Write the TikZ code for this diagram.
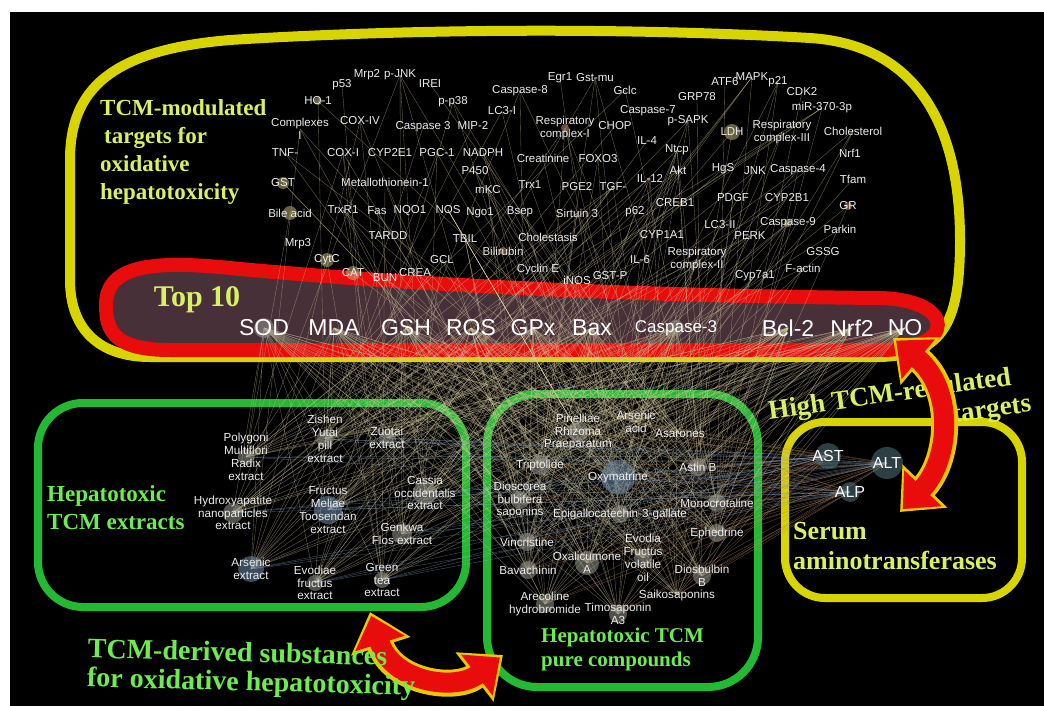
\documentclass[tikz,border=0pt]{standalone}
\usepackage{fontspec}
\setmainfont{Liberation Serif}
\setsansfont{Liberation Sans}
\usetikzlibrary{arrows.meta}
\definecolor{wire}{RGB}{215,205,160}
\definecolor{wireb}{RGB}{190,140,100}
\definecolor{wirec}{RGB}{140,175,210}
\definecolor{yline}{RGB}{215,212,0}
\definecolor{gline}{RGB}{35,185,50}
\definecolor{rband}{RGB}{232,12,12}
\definecolor{bandin}{RGB}{72,48,56}
\definecolor{arrowedge}{RGB}{235,200,0}
\definecolor{ylab}{RGB}{218,240,100}
\definecolor{glab}{RGB}{110,235,80}
\definecolor{lab}{RGB}{235,235,235}
\definecolor{dtan}{RGB}{190,180,120}
\definecolor{dgray}{RGB}{150,150,140}
\definecolor{dblue}{RGB}{110,140,170}
\definecolor{dteal}{RGB}{80,115,125}
\pgfdeclarelayer{back}
\pgfdeclarelayer{wires}
\pgfsetlayers{back,wires,main}
\tikzset{
  lbl/.style={text=lab,font=\sffamily\fontsize{11.5}{12.5}\selectfont,align=center,inner sep=0pt},
  src/.style={lbl,font=\sffamily\fontsize{11.7}{12.8}\selectfont},
  hub/.style={text=white,font=\sffamily\fontsize{23}{24}\selectfont,inner sep=0pt},
  enz/.style={text=white,font=\sffamily\fontsize{16}{17}\selectfont,inner sep=0pt},
  title/.style={text=#1,inner sep=0pt,align=left},
  edge/.style={draw=wire,line width=.35pt,opacity=.5},
  halo/.style={line width=27pt,draw=arrowedge,{Triangle[length=36pt,width=60pt]}-{Triangle[length=36pt,width=60pt]}},
  bigarrow/.style={line width=20pt,draw=rband,shorten <=4pt,shorten >=4pt,{Triangle[length=29pt,width=50pt]}-{Triangle[length=29pt,width=50pt]}}
}
\begin{document}
\begin{tikzpicture}[x=1pt,y=-1pt]
\useasboundingbox (0,0) rectangle (1044,706);
\begin{pgfonlayer}{back}
\fill[white] (0,0) rectangle (1044,706);
\fill[black] (10,12) rectangle (1044,706);
\draw[yline,line width=10pt] (70,280) -- (70,160) .. controls (70,90) and (110,50) .. (230,40) .. controls (420,28) and (640,28) .. (810,38) .. controls (920,45) and (960,130) .. (960,240) .. controls (960,320) and (945,355) .. (880,357) -- (150,357) .. controls (100,357) and (70,330) .. (70,280) -- cycle;
\draw[rband,line width=14pt,fill=bandin] (106,305) .. controls (106,266) and (150,260) .. (230,268) .. controls (420,286) and (650,296) .. (880,298) .. controls (957,300) and (957,350) .. (880,350) -- (170,350) .. controls (113,350) and (106,330) .. (106,305) -- cycle;
\draw[gline,line width=8pt,rounded corners=45pt] (38,403) rectangle (466,607);
\draw[gline,line width=8pt,rounded corners=50pt] (487,394) rectangle (758,687);
\draw[yline,line width=8pt,rounded corners=40pt] (785,422) rectangle (1022,598);
\end{pgfonlayer}
\foreach \n/\x/\y/\t in {
  1/342/85/p53, 2/367/75/Mrp2, 3/400/75/p-JNK, 4/430/84/IREI, 5/318/101/HO-1, 6/453/102/p-p38,
  7/520/91/Caspase-8, 8/560/78/Egr1, 9/595/78/Gst-mu, 10/625/90/Gclc, 11/725/82/ATF6, 12/752/77/MAPK,
  13/778/82/p21, 14/802/92/CDK2, 15/822/108/miR-370-3p, 16/697/97/GRP78, 17/648/111/Caspase-7,
  18/688/121/p-SAPK, 19/502/111/LC3-I, 20/473/125/MIP-2, 21/565/128/{Respiratory\\complex-I},
  22/615/126/CHOP, 23/300/129/{Complexes\\I}, 24/360/121/COX-IV, 25/423/127/Caspase 3, 26/732/132/LDH,
  27/782/132/{Respiratory\\complex-III}, 28/853/131/Cholesterol, 29/647/141/IL-4, 30/677/150/Ntcp,
  31/850/153/Nrf1, 32/285/153/TNF-, 33/343/153/COX-I, 34/390/153/CYP2E1, 35/437/153/PGC-1,
  36/483/153/NADPH, 37/543/158/Creatinine, 38/598/159/FOXO3, 39/678/170/Akt, 40/723/169/HgS,
  41/755/171/JNK, 42/798/170/Caspase-4, 43/475/171/P450, 44/385/182/Metallothionein-1, 45/650/178/IL-12,
  46/853/179/Tfam, 47/283/183/GST, 48/488/190/mKC, 49/530/185/Trx1, 50/577/187/PGE2, 51/613/187/TGF-,
  52/675/203/CREB1, 53/733/198/PDGF, 54/787/198/CYP2B1, 55/848/206/GR, 56/290/213/Bile acid,
  57/343/210/TrxR1, 58/377/211/Fas, 59/410/211/NQO1, 60/448/210/NOS, 61/480/213/Ngo1, 62/520/212/Bsep,
  63/577/213/Sirtuin 3, 64/635/212/p62, 65/720/225/LC3-II, 66/788/223/Caspase-9, 67/840/229/Parkin,
  68/388/236/TARDD, 69/465/239/TBIL, 70/548/237/Cholestasis, 71/662/235/CYP1A1, 72/750/236/PERK,
  73/298/244/Mrp3, 74/503/251/Bilirubin, 75/697/259/{Respiratory\\complex-II}, 76/823/252/GSSG,
  77/327/260/CytC, 78/442/260/GCL, 79/640/260/IL-6, 80/353/273/CAT, 81/385/278/BUN, 82/415/273/CREA,
  83/538/270/Cyclin E, 84/803/268/F-actin, 85/577/280/iNOS, 86/610/276/GST-P, 87/755/276/Cyp7a1}
  \node[lbl] (t\n) at (\x,\y) {\t};
\foreach \n/\x/\t in {1/264/SOD, 2/334/MDA, 3/406/GSH, 4/471/ROS, 5/533/GPx, 6/592/Bax,
  7/676/{\fontsize{17}{18}\selectfont Caspase-3}, 8/788/Bcl-2, 9/852/Nrf2, 10/905/NO}
  \node[hub] (k\n) at (\x,328) {\t};
\foreach \n/\x/\y/\t in {
  1/246/457/{Polygoni\\Multiflori\\Radix\\extract}, 2/233/513/{Hydroxyapatite\\nanoparticles\\extract},
  3/251/569/{Arsenic\\extract}, 4/325/439/{Zishen\\Yutai\\pill\\extract}, 5/387/438/{Zuotai\\extract},
  6/425/493/{Cassia\\occidentalis\\extract}, 7/328/510/{Fructus\\Meliae\\Toosendan\\extract},
  8/402/534/{Genkwa\\Flos extract}, 9/315/583/{Evodiae\\fructus\\extract}, 10/382/580/{Green\\tea\\extract},
  11/578/432/{Pinelliae\\Rhizoma\\Praeparatum}, 12/636/422/{Arsenic\\acid}, 13/680/434/Asarones,
  14/540/465/Triptolide, 15/618/477/Oxymatrine, 16/698/467/Astin B,
  17/520/500/{Dioscorea\\bulbifera\\saponins}, 18/620/514/Epigallocatechin-3-gallate,
  19/717/503/Monocrotaline, 20/717/533/Ephedrine, 21/527/542/Vincristine,
  22/643/558/{Evodia\\Fructus\\volatile\\oil}, 23/587/563/{Oxalicumone\\A}, 24/528/570/Bavachinin,
  25/702/576/{Diosbulbin\\B}, 26/545/604/{Arecoline\\hydrobromide}, 27/677/595/Saikosaponins,
  28/618/614/{Timosaponin\\A3}}
  \node[src] (s\n) at (\x,\y) {\t};
\node[enz] (ast) at (828,456) {AST};
\node[enz] (alt) at (887,463) {ALT};
\node[enz] (alp) at (850,492) {ALP};
\begin{pgfonlayer}{wires}
\foreach \s in {1,...,28}{
  \foreach \k in {1,...,10} \draw[edge] (s\s.center) -- (k\k.center);
  \foreach \m in {1,...,7}{
    \pgfmathtruncatemacro{\j}{mod(\s*37+\m*53+\s*\m*11,87)+1}
    \draw[edge] (s\s.center) -- (t\j.center);}
}
\foreach \e in {ast,alt,alp}{
  \foreach \s in {11,...,28} \draw[edge,draw=wireb] (\e.center) -- (s\s.center);
  \foreach \s in {1,...,10} \draw[edge,draw=wirec] (\e.center) -- (s\s.center);}
\foreach \p/\r/\c in {t56/7/dtan, t77/7/dtan, t80/7/dtan, t26/8/dtan, t47/6/dtan, t5/4/dtan,
  t21/4/wireb, t55/4/wireb, t66/4/dtan, t74/4/wireb, k1/10/dgray, k7/8/dgray,
  s1/8/dgray, s2/10/dgray, s3/13/dblue, s4/8/dgray, s5/8/dgray, s6/12/dgray, s7/14/dblue,
  s8/10/dgray, s9/8/dgray, s10/8/dgray, s11/10/dgray, s14/10/dgray, s15/17/dblue, s16/9/dgray,
  s17/9/dgray, s18/9/dgray, s19/9/dgray, s20/9/dgray, s21/9/dgray, s22/9/dgray, s23/12/dgray,
  s24/9/dgray, s25/9/dgray, s26/9/dgray, s28/9/dgray, ast/13/dteal, alt/16/dteal, alp/10/dteal}
  \fill[\c,opacity=.55] (\p.center) circle (\r);
\end{pgfonlayer}
\draw[halo] (370,612) .. controls (392,682) and (455,692) .. (503,655);
\draw[bigarrow] (370,612) .. controls (392,682) and (455,692) .. (503,655);
\node[title=ylab,anchor=north west,font=\bfseries\fontsize{23}{28}\selectfont] (modtitle) at (100,99)
  {TCM-modulated\\\hspace*{4pt}targets for\\oxidative\\hepatotoxicity};
\node[title=ylab,font=\bfseries\fontsize{30}{30}\selectfont] (toptitle) at (197,300) {Top 10};
\node[title=ylab,align=right,rotate=8,font=\bfseries\fontsize{27}{29}\selectfont] (hightitle) at (892,410)
  {High TCM-regulated\\targets\hspace*{-16pt}};
\node[title=ylab,anchor=north west,font=\bfseries\fontsize{26}{30}\selectfont] (serumtitle) at (793,522)
  {Serum\\aminotransferases};
\node[title=glab,anchor=north west,font=\bfseries\fontsize{23}{28}\selectfont] (extitle) at (47,485)
  {Hepatotoxic\\TCM extracts};
\node[title=glab,anchor=north west,rotate=-1.5,font=\bfseries\fontsize{28}{29}\selectfont] (dertitle) at (88,638)
  {TCM-derived substances\\for oxidative hepatotoxicity};
\node[title=glab,anchor=north west,font=\bfseries\fontsize{21}{24}\selectfont] (pctitle) at (541,628)
  {Hepatotoxic TCM\\pure compounds};
\draw[halo] (893,338) .. controls (955,390) and (950,460) .. (900,512);
\draw[bigarrow] (893,338) .. controls (955,390) and (950,460) .. (900,512);
\end{tikzpicture}
\end{document}
